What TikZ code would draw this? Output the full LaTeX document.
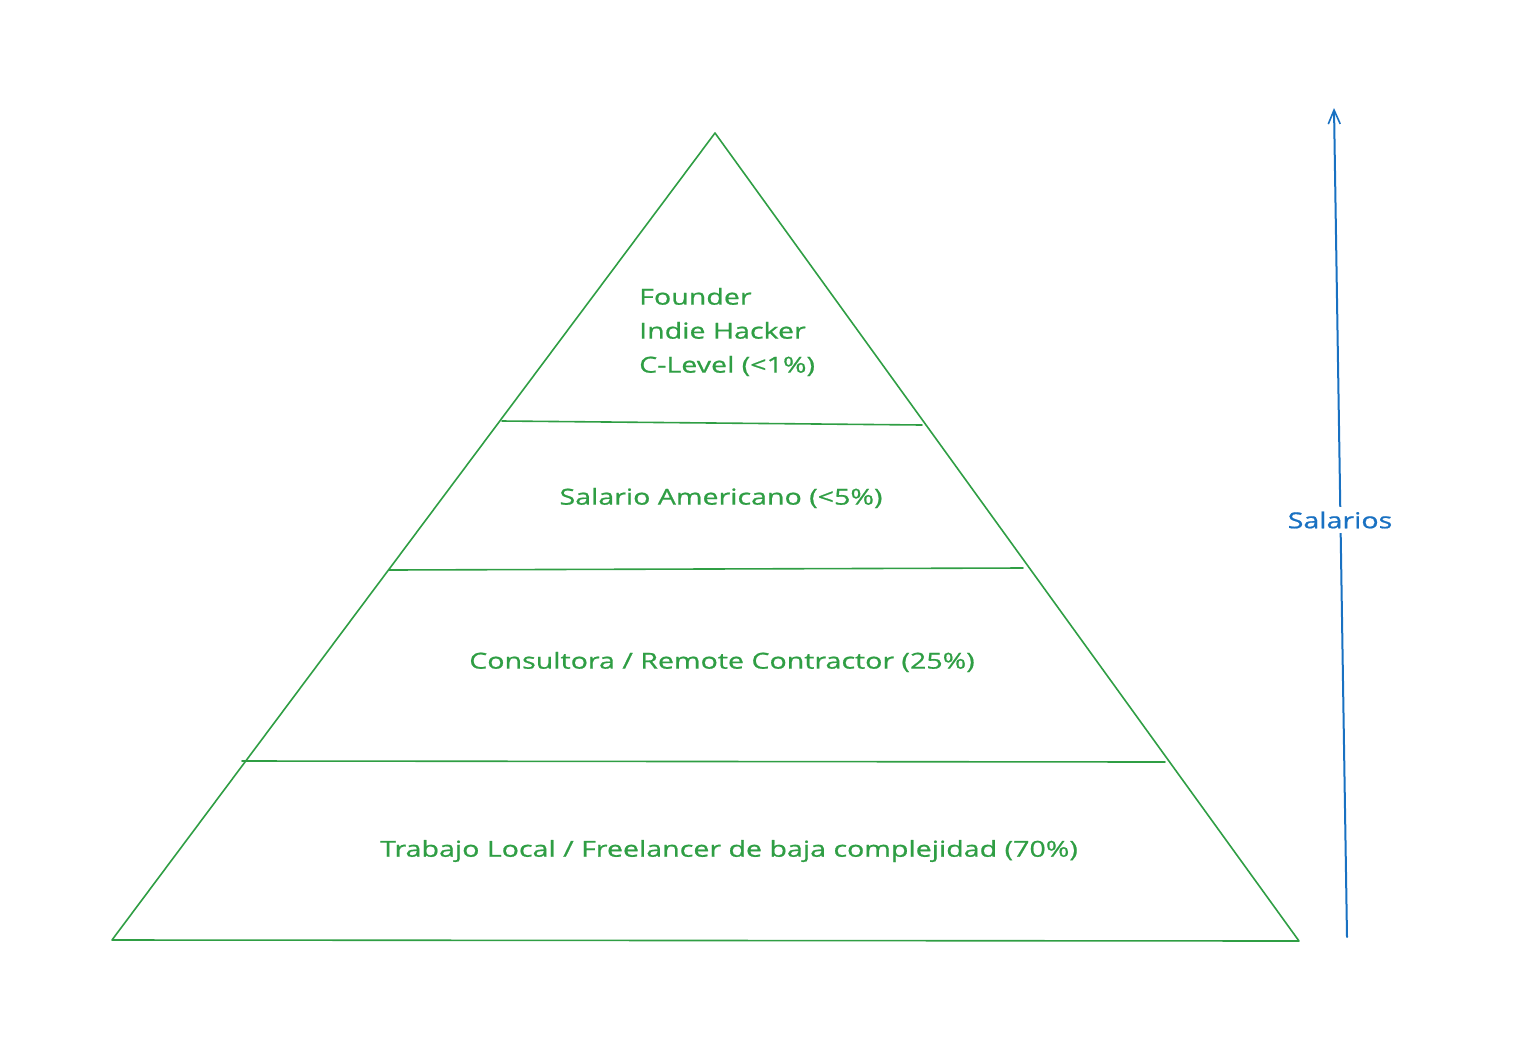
\documentclass[tikz,border=0pt]{standalone}
\usepackage{fontspec}
\setmainfont[FakeStretch=1.3,FakeBold=0.8]{Open Sans}
\usetikzlibrary{arrows.meta}
\definecolor{pgreen}{HTML}{2F9E44}
\definecolor{pblue}{HTML}{1971C2}
\tikzset{
  pyr/.style={draw=pgreen, line width=1.6pt, line cap=round, line join=round},
  lvl/.style={text=pgreen, font=\fontsize{22}{34}\selectfont, inner sep=0pt},
  axis/.style={draw=pblue, line width=2pt, line cap=round, -{Straight Barb[length=14pt,width=12pt,line width=1.6pt]}},
  axlabel/.style={text=pblue, font=\fontsize{22}{26}\selectfont, fill=white, inner sep=5pt}
}
\begin{document}
\begin{tikzpicture}[x=1pt,y=-1pt]
\useasboundingbox (0,0) rectangle (1518,1058);
% pyramid corners
\coordinate (apex) at (715,133);
\coordinate (bl) at (112,940);
\coordinate (br) at (1299,941);
\draw[pyr] (bl) -- (apex) -- (br) -- cycle;
% level separators
\coordinate (l1a) at (502,421);
\coordinate (l1b) at (922,425);
\coordinate (l2a) at (389,570);
\coordinate (l2b) at (1023,568);
\coordinate (l3a) at (242,761);
\coordinate (l3b) at (1165,762);
\draw[pyr] (l1a) -- (l1b);
\draw[pyr] (l2a) -- (l2b);
\draw[pyr] (l3a) -- (l3b);
% labels
\node[lvl, align=left, anchor=west] (top) at (639,332) {Founder\\Indie Hacker\\C-Level (<1\%)};
\node[lvl] (sal) at (721,498) {Salario Americano (<5\%)};
\node[lvl] (cons) at (722,662) {Consultora / Remote Contractor (25\%)};
\node[lvl] (trab) at (729,851) {Trabajo Local / Freelancer de baja complejidad (70\%)};
% axis
\coordinate (axstart) at (1347,937);
\coordinate (axend) at (1334,108);
\draw[axis] (axstart) -- (axend);
\node[axlabel] (salarios) at (1340,520) {Salarios};
\end{tikzpicture}
\end{document}
